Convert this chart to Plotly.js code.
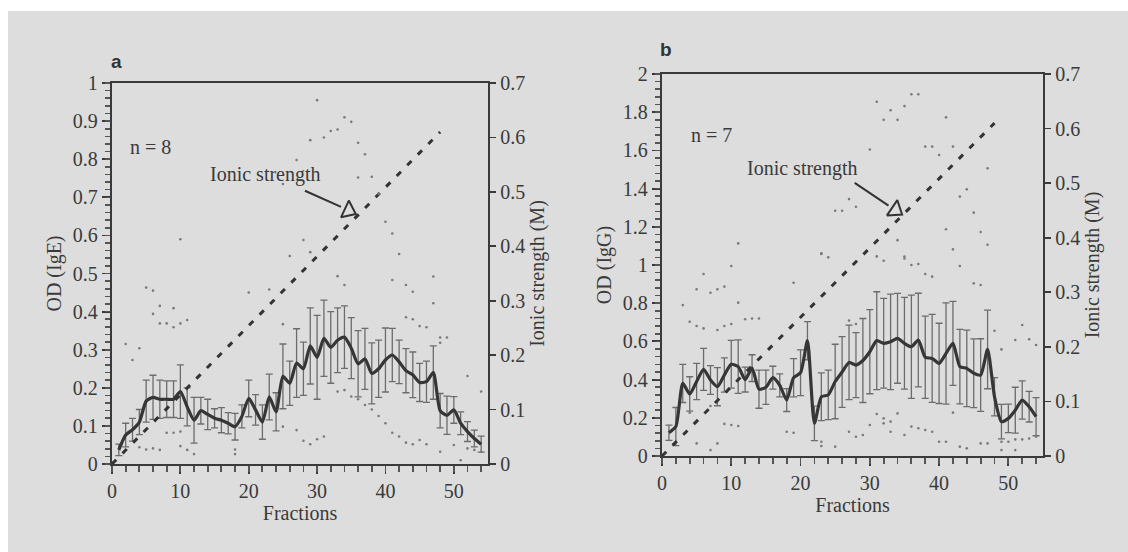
<!DOCTYPE html>
<html><head><meta charset="utf-8">
<script src="https://cdn.plot.ly/plotly-3.0.1.min.js"></script>
<style>html,body{margin:0;padding:0;background:#fff}</style>
</head><body><div id="chart" style="width:1128px;height:552px"></div>
<script>
// ---------- DATA ----------
const fractions = [1,2,3,4,5,6,7,8,9,10,11,12,13,14,15,16,17,18,19,20,21,22,23,24,25,26,27,28,29,30,31,32,33,34,35,36,37,38,39,40,41,42,43,44,45,46,47,48,49,50,51,52,53,54];

// Panel a: OD (IgE), mean and SD, n = 8
const meanIgE = [0.037,0.076,0.09,0.11,0.165,0.175,0.17,0.17,0.17,0.19,0.15,0.115,0.14,0.13,0.12,0.115,0.107,0.098,0.125,0.172,0.142,0.11,0.176,0.137,0.23,0.212,0.265,0.25,0.31,0.28,0.33,0.306,0.325,0.333,0.304,0.263,0.276,0.238,0.25,0.273,0.286,0.268,0.245,0.234,0.214,0.216,0.24,0.14,0.128,0.142,0.107,0.085,0.067,0.052];
const sdIgE = [0.015,0.031,0.03,0.033,0.055,0.058,0.05,0.048,0.048,0.07,0.05,0.06,0.035,0.04,0.025,0.033,0.028,0.035,0.03,0.048,0.04,0.045,0.06,0.05,0.085,0.058,0.09,0.07,0.1,0.11,0.1,0.094,0.085,0.082,0.08,0.087,0.08,0.08,0.075,0.084,0.07,0.057,0.058,0.06,0.05,0.054,0.07,0.045,0.05,0.035,0.03,0.026,0.022,0.021];

// Panel a: individual values (visible dots)
const dotsAx = [30,34,35,32,33,29,31,36,37,27,38,36,25,39,40,41,10,28,29,26,42,33,47,34,41,43,44,5,6,20,23,7,9,47,6,7,8,9,10,11,25,48,49,43,44,45,46,2,3,4,48,52,54,48,51,52,4,5,6,7,10,11,12,18,18,9,10,8,28,29,30,31,27,25,33,34,35,36,37,38,39,40,41,42,43,44,45,46,53,54,50];
const dotsAy = [0.955,0.91,0.898,0.874,0.878,0.85,0.857,0.843,0.813,0.798,0.754,0.752,0.735,0.709,0.636,0.605,0.59,0.588,0.556,0.546,0.551,0.493,0.492,0.47,0.483,0.47,0.452,0.463,0.455,0.45,0.458,0.415,0.409,0.422,0.394,0.369,0.369,0.359,0.369,0.378,0.367,0.332,0.332,0.385,0.38,0.362,0.359,0.315,0.273,0.304,0.318,0.231,0.19,0.032,0.01,0.041,0.044,0.038,0.041,0.037,0.047,0.037,0.026,0.038,0.026,0.082,0.085,0.082,0.061,0.052,0.065,0.072,0.089,0.098,0.19,0.194,0.177,0.17,0.155,0.143,0.126,0.107,0.082,0.072,0.056,0.052,0.063,0.052,0.037,0.032,0.05];

// Panel b: OD (IgG), mean and SD, n = 7
const meanIgG = [0.122,0.154,0.38,0.325,0.39,0.454,0.398,0.363,0.424,0.48,0.468,0.40,0.46,0.35,0.36,0.41,0.37,0.293,0.41,0.436,0.604,0.171,0.31,0.32,0.39,0.44,0.49,0.476,0.50,0.546,0.604,0.59,0.598,0.616,0.59,0.572,0.607,0.517,0.511,0.485,0.537,0.59,0.468,0.459,0.433,0.424,0.558,0.31,0.18,0.197,0.24,0.293,0.258,0.206];
const sdIgG = [0.04,0.1,0.1,0.09,0.095,0.11,0.075,0.1,0.09,0.125,0.14,0.065,0.07,0.1,0.09,0.06,0.06,0.06,0.1,0.12,0.1,0.09,0.125,0.13,0.195,0.185,0.195,0.17,0.22,0.22,0.256,0.235,0.25,0.235,0.24,0.27,0.245,0.215,0.23,0.21,0.265,0.22,0.195,0.2,0.18,0.19,0.206,0.1,0.09,0.075,0.12,0.1,0.08,0.1];

// Panel b: individual values (visible dots)
const dotsBx = [36,37,31,33,35,32,34,41,30,38,39,42,40,47,27,28,25,26,44,43,45,41,46,11,42,47,34,23,31,32,35,6,10,23,24,35,36,37,38,39,43,45,46,3,5,7,8,9,11,4,5,6,8,9,10,12,13,14,19,27,28,52,51,49,53,54,48,7,4,9,10,11,18,19,5,8,7,23,23,25,27,28,29,31,32,33,34,35,36,37,38,39,40,41,42,43,44,46,47,49,50,51,52,53,54,49,51,30,32,33];
const dotsBy = [1.894,1.894,1.855,1.81,1.832,1.76,1.76,1.773,1.605,1.62,1.62,1.62,1.576,1.506,1.345,1.305,1.284,1.284,1.396,1.358,1.274,1.187,1.173,1.113,1.082,1.106,1.13,1.061,1.045,1.022,1.034,0.953,0.995,1.058,1.04,1.044,1.0,1.005,0.953,0.939,0.995,0.904,0.895,0.79,0.873,0.855,0.873,0.887,0.803,0.703,0.681,0.668,0.66,0.681,0.691,0.716,0.72,0.72,0.907,0.709,0.691,0.686,0.607,0.558,0.611,0.581,0.656,0.262,0.227,0.168,0.162,0.157,0.127,0.122,0.066,0.066,0.031,0.075,0.052,0.049,0.127,0.101,0.11,0.22,0.197,0.18,0.223,0.11,0.154,0.145,0.136,0.127,0.075,0.075,0.227,0.049,0.04,0.066,0.066,0.075,0.075,0.087,0.087,0.092,0.101,0.031,0.031,0.162,0.171,0.127];

// Ionic strength gradient (M)
const ionicX = [0, 48];
const ionicY = [0, 0.61];

// Titles
const yTitleA = 'OD (IgE)';
const yTitleB = 'OD (IgG)';
const ionTitle = 'Ionic strength (M)';
const xTitle = 'Fractions';

// ---------- STYLE ----------
const W = 1128, H = 552;
const px = v => v / W;
const py = v => 1 - v / H;
const ink = '#3a3a3a';
const serif = 'Liberation Serif, Times New Roman, serif';
const tickFont = {family: serif, size: 20, color: ink};
const titleFont = {family: serif, size: 20, color: ink};

function xAxis(domain, anchor) {
  return {
    domain: domain, anchor: anchor, range: [0, 55], tick0: 0, dtick: 10,
    ticks: 'outside', ticklen: 8, tickwidth: 1.8, tickcolor: ink,
    showline: true, linecolor: ink, linewidth: 2.2, mirror: true,
    showgrid: false, zeroline: false, tickfont: tickFont,
    title: {text: xTitle, font: titleFont, standoff: 4}
  };
}
function yLeft(domain, anchor, range, dtick, title) {
  return {
    domain: domain, anchor: anchor, range: range, tick0: 0, dtick: dtick,
    ticks: 'outside', ticklen: 8, tickwidth: 1.8, tickcolor: ink,
    showline: true, linecolor: ink, linewidth: 2.2,
    showgrid: false, zeroline: false, tickfont: tickFont,
    title: {text: title, font: titleFont, standoff: 6}
  };
}
function yRight(overlay, anchor) {
  return {
    overlaying: overlay, anchor: anchor, side: 'right', range: [0, 0.7], tick0: 0, dtick: 0.1,
    ticks: 'outside', ticklen: 6, tickwidth: 1.8, tickcolor: ink,
    showline: true, linecolor: ink, linewidth: 2.2,
    showgrid: false, zeroline: false, tickfont: tickFont,
    title: {text: ionTitle, font: titleFont, standoff: 6}
  };
}
// minor-tick overlay axes (same ranges as the main axes; carry the dot traces)
function xMinor(overlay, anchor) {
  return {overlaying: overlay, anchor: anchor, side: 'bottom', range: [0, 55], tick0: 0, dtick: 2,
    ticks: 'outside', ticklen: 6, tickwidth: 1.8, tickcolor: '#555', showticklabels: false,
    showline: true, linecolor: ink, linewidth: 2.2, showgrid: false, zeroline: false};
}
function yMinor(overlay, anchor, range, dtick) {
  return {overlaying: overlay, anchor: anchor, side: 'left', range: range, tick0: 0, dtick: dtick,
    ticks: 'outside', ticklen: 5, tickwidth: 1.6, tickcolor: '#555', showticklabels: false,
    showline: true, linecolor: ink, linewidth: 2.2, showgrid: false, zeroline: false};
}

const dotStyle = {size: 2.6, color: '#7a7a7a'};
const meanLine = {shape: 'spline', smoothing: 0.6, width: 3.2, color: '#363636'};
const errStyle = (arr) => ({type: 'data', array: arr, visible: true, color: '#6c6c6c', thickness: 1.3, width: 3.5});
const ionLine = {color: '#333', width: 3, dash: '6px,9px'};

const traces = [
  {x: dotsAx, y: dotsAy, xaxis: 'x3', yaxis: 'y5', mode: 'markers', marker: dotStyle, hoverinfo: 'skip'},
  {x: fractions, y: meanIgE, xaxis: 'x', yaxis: 'y', mode: 'lines', line: meanLine, error_y: errStyle(sdIgE)},
  {x: ionicX, y: ionicY, xaxis: 'x', yaxis: 'y2', mode: 'lines', line: ionLine},
  {x: [34.6], y: [0.665], xaxis: 'x', yaxis: 'y', mode: 'markers',
   marker: {symbol: 'triangle-right-open', size: 16, angle: 25, color: '#333', line: {width: 2, color: '#333'}}},

  {x: dotsBx, y: dotsBy, xaxis: 'x4', yaxis: 'y6', mode: 'markers', marker: dotStyle, hoverinfo: 'skip'},
  {x: fractions, y: meanIgG, xaxis: 'x2', yaxis: 'y3', mode: 'lines', line: meanLine, error_y: errStyle(sdIgG)},
  {x: ionicX, y: ionicY, xaxis: 'x2', yaxis: 'y4', mode: 'lines', line: ionLine},
  {x: [33.7], y: [1.288], xaxis: 'x2', yaxis: 'y3', mode: 'markers',
   marker: {symbol: 'triangle-right-open', size: 16, angle: 34, color: '#333', line: {width: 2, color: '#333'}}}
];

const textFont = {family: serif, size: 20, color: ink};
const labelFont = {family: 'Liberation Sans, Arial, sans-serif', size: 19, color: '#333'};
const layout = {
  width: W, height: H, showlegend: false,
  margin: {l: 0, r: 0, t: 0, b: 0},
  paper_bgcolor: '#ffffff', plot_bgcolor: 'rgba(0,0,0,0)',
  xaxis: xAxis([px(112), px(488)], 'y'),
  yaxis: yLeft([py(464), py(83)], 'x', [0, 1], 0.1, yTitleA),
  yaxis2: yRight('y', 'x'),
  xaxis2: xAxis([px(662), px(1043)], 'y3'),
  yaxis3: yLeft([py(456), py(74)], 'x2', [0, 2], 0.2, yTitleB),
  yaxis4: yRight('y3', 'x2'),
  xaxis3: xMinor('x', 'y'),
  yaxis5: yMinor('y', 'x', [0, 1], 0.02),
  xaxis4: xMinor('x2', 'y3'),
  yaxis6: yMinor('y3', 'x2', [0, 2], 0.04),
  shapes: [
    {type: 'rect', xref: 'paper', yref: 'paper', x0: px(8), x1: 1, y0: 0, y1: py(11),
     fillcolor: '#dddddd', line: {width: 0}, layer: 'below'}
  ],
  annotations: [
    {xref: 'paper', yref: 'paper', x: px(116), y: py(61), xanchor: 'center', yanchor: 'middle',
     text: '<b>a</b>', showarrow: false, font: labelFont},
    {xref: 'paper', yref: 'paper', x: px(666), y: py(50), xanchor: 'center', yanchor: 'middle',
     text: '<b>b</b>', showarrow: false, font: labelFont},
    {xref: 'x', yref: 'y', x: 5.6, y: 0.832, text: 'n = 8', showarrow: false, font: textFont},
    {xref: 'x2', yref: 'y3', x: 7.1, y: 1.68, text: 'n = 7', showarrow: false, font: textFont},
    {xref: 'x', yref: 'y', x: 22.5, y: 0.759, text: 'Ionic strength', showarrow: false, font: textFont},
    {xref: 'x2', yref: 'y3', x: 20.3, y: 1.503, text: 'Ionic strength', showarrow: false, font: textFont},
    {xref: 'x', yref: 'y', x: 33.5, y: 0.675, axref: 'x', ayref: 'y', ax: 28.0, ay: 0.719,
     text: '', showarrow: true, arrowhead: 0, arrowwidth: 2, arrowcolor: '#333'},
    {xref: 'x2', yref: 'y3', x: 32.7, y: 1.311, axref: 'x2', ayref: 'y3', ax: 27.6, ay: 1.435,
     text: '', showarrow: true, arrowhead: 0, arrowwidth: 2, arrowcolor: '#333'}
  ]
};

Plotly.newPlot('chart', traces, layout, {displayModeBar: false, staticPlot: true});
</script>
</body></html>
